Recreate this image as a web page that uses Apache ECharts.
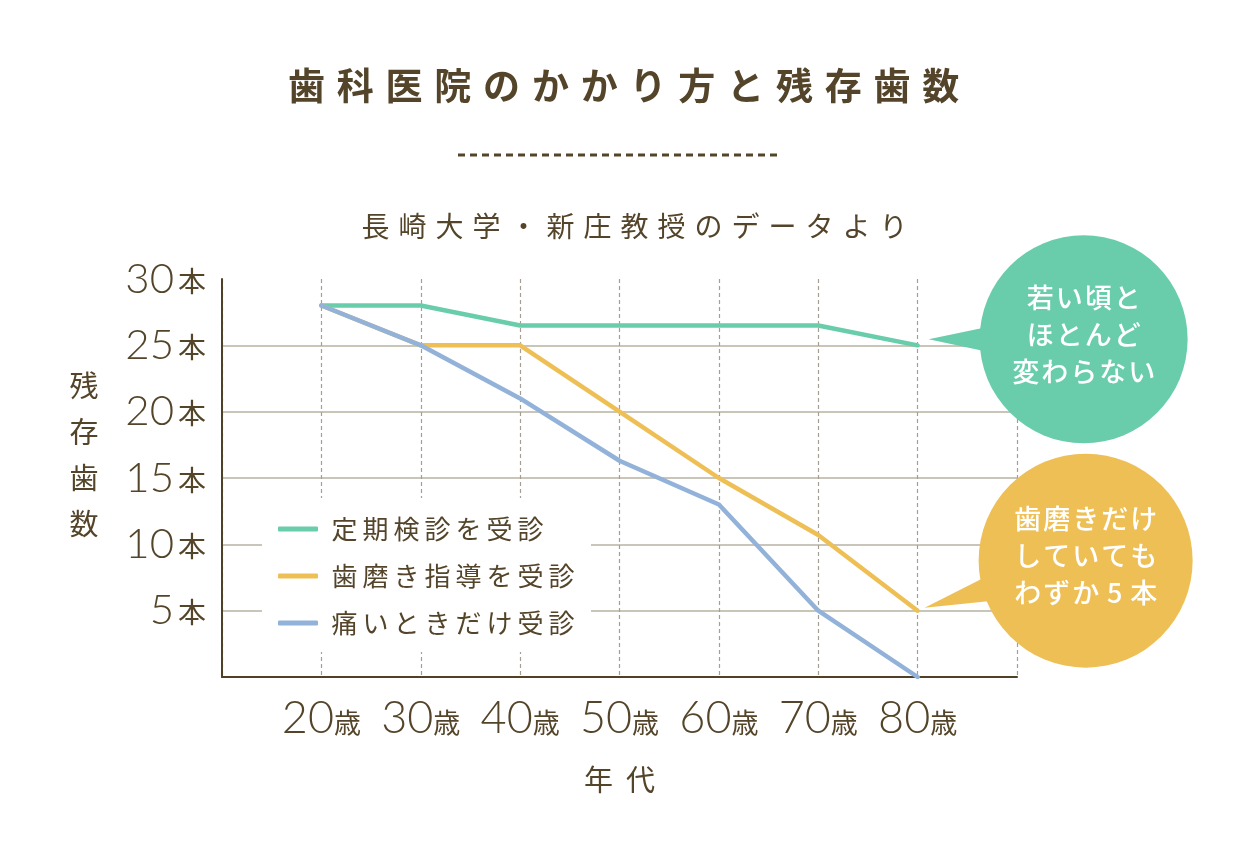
<!DOCTYPE html>
<html><head><meta charset="utf-8">
<script src="https://cdn.jsdelivr.net/npm/echarts@6/dist/echarts.min.js"></script>
<style>html,body{margin:0;padding:0;background:#fff}#c{width:1260px;height:850px}</style>
</head><body><div id="c"></div>
<script>
// ---- data ----
const titleText = '歯科医院のかかり方と残存歯数';
const subtitleText = '長崎大学・新庄教授のデータより';
const ages = [20, 30, 40, 50, 60, 70, 80];
const ageUnit = '歳';
const countUnit = '本';
const yTicks = [5, 10, 15, 20, 25, 30];
const seriesNames = ['定期検診を受診', '歯磨き指導を受診', '痛いときだけ受診'];
const regularCheckup = [28, 28, 26.5, 26.5, 26.5, 26.5, 25];
const brushingGuidance = [28, 25, 25, 20, 15, 10.7, 5];
const onlyWhenPain = [28, 25, 21, 16.3, 13, 5, 0];
const yAxisName = '残存歯数';
const xAxisName = '年代';
const note1 = '若い頃と\nほとんど\n変わらない';
const note2 = '歯磨きだけ\nしていても\nわずか5本';

// ---- style ----
const JP = '"Noto Sans CJK JP", "Noto Sans", sans-serif';
const NUM = 'Lato, "Noto Sans", sans-serif';
const BROWN = '#54452a';
const TEAL = '#69cdab';
const ORANGE = '#eebf55';
const BLUE = '#92b2da';
const GRID = '#b9b2a2';

function spaced(s, key) {
  return s.split('\n').map(l => l.split('').map(c => '{' + key + '|' + c + '}').join('')).join('\n');
}

const chart = echarts.init(document.getElementById('c'));

const lineSeries = [regularCheckup, brushingGuidance, onlyWhenPain].map((vals, i) => ({
  name: seriesNames[i],
  type: 'line',
  data: ages.map((a, k) => [a, vals[k]]),
  symbol: 'none',
  smooth: false,
  color: [TEAL, ORANGE, BLUE][i],
  lineStyle: { width: 4.5, color: [TEAL, ORANGE, BLUE][i], cap: 'round', join: 'round' },
  z: 3 + i
}));

chart.setOption({
  animation: false,
  backgroundColor: '#fff',
  title: [
    {
      text: spaced(titleText, 't'), left: 277, top: 59,
      textStyle: { rich: { t: { width: 48.8, align: 'center', fontSize: 37, fontWeight: 'bold', color: BROWN, fontFamily: JP, lineHeight: 44 } } }
    },
    {
      text: spaced(subtitleText, 's'), left: 352, top: 204,
      textStyle: { rich: { s: { width: 37, align: 'center', fontSize: 28, fontWeight: 'normal', color: BROWN, fontFamily: JP, lineHeight: 34 } } }
    }
  ],
  grid: { left: 222, right: 243, top: 279, bottom: 173, containLabel: false },
  legend: {
    orient: 'vertical', left: 262, top: 498,
    backgroundColor: '#fff',
    padding: [18, 14, 16, 16],
    itemGap: 21,
    itemWidth: 40, itemHeight: 5,
    icon: 'roundRect',
    data: seriesNames,
    formatter: n => spaced(n, 'l'),
    textStyle: {
      padding: [0, 0, 0, 6],
      rich: { l: { width: 31, align: 'center', fontSize: 26, color: BROWN, fontFamily: JP, lineHeight: 28 } }
    }
  },
  xAxis: {
    type: 'value', min: 10, max: 90, interval: 10,
    name: spaced(xAxisName, 'x'), nameLocation: 'middle', nameGap: 88,
    nameTextStyle: { rich: { x: { width: 42, align: 'center', fontSize: 29, color: BROWN, fontFamily: JP } } },
    axisLine: { show: true, lineStyle: { color: '#4f4128', width: 2 } },
    axisTick: { show: false },
    axisLabel: {
      margin: 18,
      formatter: v => ages.indexOf(v) >= 0 ? '{n|' + v + '}{u|' + ageUnit + '}' : '',
      rich: {
        n: { fontSize: 45, fontFamily: NUM, fontWeight: 300, color: BROWN, lineHeight: 46 },
        u: { fontSize: 27, fontFamily: JP, color: BROWN, padding: [9, 0, 0, 0] }
      }
    },
    splitLine: { show: true, lineStyle: { color: '#a59e93', width: 1.2, type: [4, 3] } }
  },
  yAxis: {
    type: 'value', min: 0, max: 30, interval: 5,
    axisLine: { show: true, lineStyle: { color: '#4f4128', width: 2 } },
    axisTick: { show: false },
    axisLabel: {
      margin: 16,
      formatter: v => yTicks.indexOf(v) >= 0 ? '{n|' + v + '}{u|' + countUnit + '}' : '',
      rich: {
        n: { fontSize: 42, fontFamily: NUM, fontWeight: 300, color: BROWN, lineHeight: 46 },
        u: { fontSize: 28, fontFamily: JP, color: BROWN, padding: [4, 0, 0, 4] }
      }
    },
    splitLine: { show: true, lineStyle: { color: ['rgba(0,0,0,0)', GRID, GRID, GRID, GRID, GRID, 'rgba(0,0,0,0)'], width: 1.5 } }
  },
  series: lineSeries,
  graphic: [
    { type: 'line', id: 'sep', shape: { x1: 458, y1: 155, x2: 777, y2: 155 }, style: { stroke: BROWN, lineWidth: 3, lineDash: [7, 5] } },
    {
      type: 'text', id: 'yname', x: 84, y: 455,
      style: { text: yAxisName.split('').join('\n'), fill: BROWN, font: '29px ' + JP, lineHeight: 46, align: 'center', verticalAlign: 'middle' }
    }
  ]
});

// annotation bubbles anchored to the last points
function bubble(id, tip, cx, cy, r, color, text) {
  const ang = Math.atan2(tip[1] - cy, tip[0] - cx);
  const d = 0.14;
  const b1 = [cx + r * 0.9 * Math.cos(ang - d), cy + r * 0.9 * Math.sin(ang - d)];
  const b2 = [cx + r * 0.9 * Math.cos(ang + d), cy + r * 0.9 * Math.sin(ang + d)];
  return [
    { type: 'polygon', id: id + 'tail', shape: { points: [tip, b1, b2] }, style: { fill: color }, z: 10 },
    { type: 'circle', id: id + 'c', shape: { cx: cx, cy: cy, r: r }, style: { fill: color }, z: 10 },
    {
      type: 'text', id: id + 't', x: cx, y: cy - 5, z: 11,
      style: {
        text: spaced(text, 'b'), align: 'center', verticalAlign: 'middle',
        rich: { b: { width: 29, align: 'center', fontSize: 27, fontFamily: JP, fontWeight: 500, fill: '#fff', lineHeight: 37 } }
      }
    }
  ];
}
const p1 = chart.convertToPixel({ gridIndex: 0 }, [ages[6], regularCheckup[6]]);
const p2 = chart.convertToPixel({ gridIndex: 0 }, [ages[6], brushingGuidance[6]]);
chart.setOption({
  graphic: [].concat(
    bubble('n1', [p1[0] + 11, p1[1] - 6], p1[0] + 166, p1[1] - 6, 104, TEAL, note1),
    bubble('n2', [p2[0] + 7, p2[1] - 3], p2[0] + 168, p2[1] - 50, 107, ORANGE, note2)
  )
});
</script>
</body></html>
